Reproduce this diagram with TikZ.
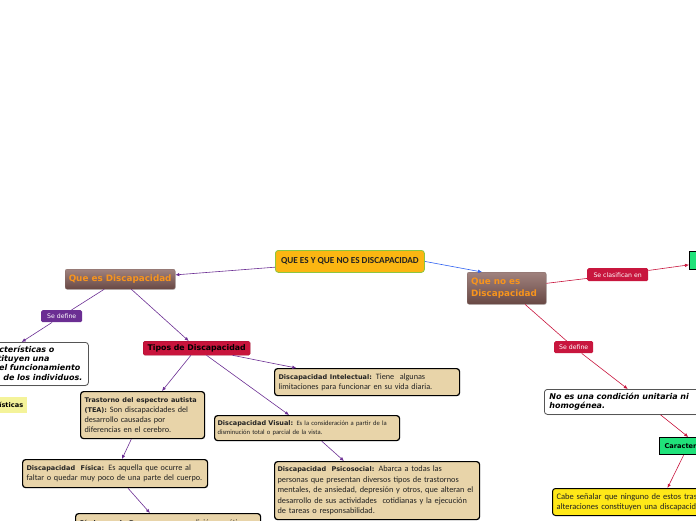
\documentclass[tikz,border=0pt]{standalone}
\usepackage{fontspec}
\setmainfont{Carlito}
\newfontfamily\verdfont{DejaVu Sans}
\usetikzlibrary{arrows.meta, shadows}
\definecolor{rootfill}{HTML}{FBB612}
\definecolor{rootborder}{HTML}{8DC63F}
\definecolor{maintop}{HTML}{A0827E}
\definecolor{mainbottom}{HTML}{684844}
\definecolor{maintext}{HTML}{F7941D}
\definecolor{tiposfill}{HTML}{C8143C}
\definecolor{purpletag}{HTML}{6B2E93}
\definecolor{redtag}{HTML}{C8163E}
\definecolor{blueline}{HTML}{2F62F2}
\definecolor{infofill}{HTML}{E8D4A9}
\definecolor{greenfill}{HTML}{20E27A}
\definecolor{yellowfill}{HTML}{FFE818}
\definecolor{paleyellow}{HTML}{F4F39A}
\definecolor{darkline}{HTML}{222222}
\definecolor{greyborder}{HTML}{555555}
\newcommand\hd[1]{{\verdfont\bfseries\fontsize{6.5}{10}\selectfont #1}}
\newcommand\pad[1]{\rule{#1}{0pt}}
\tikzset{
  card/.style={rectangle, anchor=north west, inner ysep=0pt, inner xsep=4pt,
               align=left, text=darkline},
  rootbox/.style={card, fill=rootfill, draw=rootborder, line width=0.8pt,
                  rounded corners=3pt, align=center, inner xsep=0pt,
                  font=\bfseries\fontsize{9.2}{10}\selectfont},
  mainbox/.style={card, top color=maintop, bottom color=mainbottom, draw=mainbottom!80,
                  line width=0.3pt, rounded corners=2pt, text=maintext,
                  font=\verdfont\bfseries\fontsize{8.8}{11.5}\selectfont,
                  drop shadow={shadow xshift=0.6pt, shadow yshift=-0.8pt, opacity=0.3}},
  tiposbox/.style={card, fill=tiposfill, draw=tiposfill!80!black, line width=0.3pt,
                   rounded corners=1.5pt, align=center, inner xsep=0pt, text=black,
                   font=\verdfont\bfseries\fontsize{7.8}{9}\selectfont},
  tag/.style={card, text=white, rounded corners=1.5pt, align=center, inner xsep=0pt,
              font=\verdfont\fontsize{6.2}{7}\selectfont},
  purpletagbox/.style={tag, fill=purpletag},
  redtagbox/.style={tag, fill=redtag},
  info/.style={card, fill=infofill, draw=black, line width=1.2pt, rounded corners=3pt,
               font=\fontsize{8.2}{10}\selectfont,
               drop shadow={shadow xshift=0.5pt, shadow yshift=-0.5pt, opacity=0.25}},
  defbox/.style={card, fill=white, draw=greyborder, line width=0.8pt, rounded corners=3pt,
                 text=black, font=\verdfont\bfseries\itshape\fontsize{8}{9.4}\selectfont,
                 drop shadow={shadow xshift=0.5pt, shadow yshift=-0.6pt, opacity=0.3}},
  greenbox/.style={card, fill=greenfill, draw=black, line width=1.2pt, text=black,
                   font=\verdfont\bfseries\fontsize{6.6}{8}\selectfont},
  yellowbox/.style={card, fill=yellowfill, draw=black, line width=1pt, rounded corners=3pt,
                    font=\fontsize{8.5}{10.5}\selectfont},
  palebox/.style={card, fill=paleyellow, align=right, text=black,
                  font=\verdfont\bfseries\fontsize{6.6}{8}\selectfont},
  plink/.style={draw=purpletag, line width=0.6pt},
  parrow/.style={plink, -{Latex[length=4pt, width=3.5pt]}},
  rlink/.style={draw=redtag, line width=0.6pt},
  rarrow/.style={rlink, -{Latex[length=4pt, width=3.5pt]}},
  barrow/.style={draw=blueline, line width=0.6pt, -{Latex[length=4pt, width=3.5pt]}},
}

\begin{document}
\begin{tikzpicture}[x=1pt, y=-1pt]
\useasboundingbox (0,0) rectangle (696,520);
\clip (0,0) rectangle (696,520);

% Centre
\node[rootbox, minimum width=149pt, minimum height=22pt] (root) at (275,250)
  {QUE ES Y QUE NO ES DISCAPACIDAD};

% Left branch: what disability is
\node[mainbox, align=center, inner xsep=0pt, minimum width=110pt, minimum height=20pt] (quees) at (65,269)
  {Que es Discapacidad};
\node[purpletagbox, minimum width=41pt, minimum height=12pt] (sedefine) at (41,310) {Se define};
\node[defbox, align=right, text width=230pt, minimum height=43pt] (defin) at (-150,342)
  {Son aquellas características o\pad{30pt}\\
   condiciones que constituyen una\pad{35pt}\\
   limitación para el funcionamiento\pad{4pt}\\
   y participación de los individuos.\pad{2pt}};
\node[palebox, text width=59pt, minimum height=16pt] (caracl) at (-40,397) {Características};
\node[tiposbox, minimum width=107pt, minimum height=14pt] (tipos) at (143,341) {Tipos de Discapacidad};

\node[info, text width=116pt, minimum height=47pt] (tea) at (80,391)
  {\hd{Trastorno del espectro autista}\\
   \hd{(TEA):} Son discapacidades del\\
   desarrollo causadas por\\
   diferencias en el cerebro.};
\node[info, text width=177pt, minimum height=27pt] (intel) at (274,368)
  {\hd{Discapacidad Intelectual:} Tiene\ \ algunas\\
   limitaciones para funcionar en su vida diaria.};
\node[info, inner xsep=3pt, text width=179pt, minimum height=25pt, font=\fontsize{6.6}{8.5}\selectfont] (visual) at (214,415)
  {\hd{Discapacidad Visual:} Es la consideración a partir de la\\
   disminución total o parcial de la vista.};
\node[info, text width=177pt, minimum height=28pt] (fisica) at (22,459)
  {\hd{Discapacidad\ \ Física:} Es aquella que ocurre al\\
   faltar o quedar muy poco de una parte del cuerpo.};
\node[info, text width=177pt, minimum height=40pt] (sindrome) at (75,513)
  {\hd{Síndrome de Down:} es una condición genética que\\
   se produce por una copia extra del cromosoma 21.};
\node[info, inner xsep=3pt, text width=199pt, minimum height=58pt, font=\fontsize{8.3}{10.5}\selectfont] (psico) at (274,461)
  {\hd{Discapacidad\ \ Psicosocial:} Abarca a todas las\\
   personas que presentan diversos tipos de trastornos\\
   mentales, de ansiedad, depresión y otros, que alteran el\\
   desarrollo de sus actividades\ \ cotidianas y la ejecución\\
   de tareas o responsabilidad.};

% Right branch: what disability is not
\node[mainbox, text width=71pt, minimum height=32pt] (quenoes) at (467,272) {Que no es\\Discapacidad};
\node[redtagbox, minimum width=61pt, minimum height=13pt] (seclasif) at (587,268) {Se clasifican en};
\node[greenbox, minimum width=60pt, minimum height=18pt] (tipostop) at (689,251) {};
\node[redtagbox, minimum width=39pt, minimum height=12pt] (sedefiner) at (554,341) {Se define};
\node[defbox, inner xsep=5pt, text width=190pt, minimum height=25pt] (noes) at (544,389)
  {No es una condición unitaria ni\\homogénea.};
\node[greenbox, inner xsep=5pt, text width=70pt, minimum height=17pt] (caracr) at (659,437) {Características};
\node[yellowbox, text width=232pt, minimum height=27pt] (cabe) at (552,488)
  {Cabe señalar que ninguno de estos trastornos o\\
   alteraciones constituyen una discapacidad.};

% Connectors
\draw[parrow] (root) -- (quees);
\draw[plink] (quees) -- (sedefine);
\draw[parrow] (sedefine) -- ([xshift=-40pt]sedefine.south |- defin.north);
\draw[parrow] (quees) -- (tipos);
\draw[parrow] (tipos) -- (tea);
\draw[parrow] (tipos) -- (intel);
\draw[parrow] (tipos) -- (visual);
\draw[parrow] (tea) -- (fisica);
\draw[parrow] (fisica) -- (sindrome);
\draw[parrow] (visual) -- (psico);

\draw[barrow] (root.east) -- ([xshift=15pt]quenoes.north west);
\draw[rlink] (quenoes) -- (seclasif);
\draw[rarrow] (seclasif) -- (tipostop);
\draw[rlink] (quenoes) -- (sedefiner);
\draw[rarrow] (sedefiner) -- (noes);
\draw[rarrow] (noes) -- (caracr);
\draw[rarrow] ([xshift=-16pt]caracr.south) -- ([xshift=-5pt]cabe.north);

\end{tikzpicture}
\end{document}
